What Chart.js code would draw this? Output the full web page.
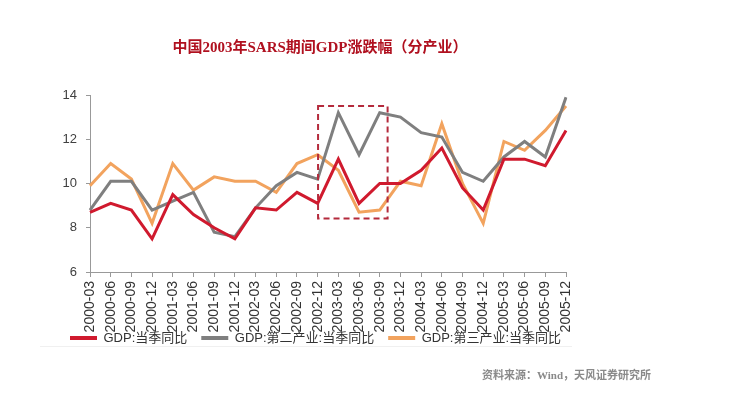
<!DOCTYPE html>
<html>
<head>
<meta charset="utf-8">
<script src="https://cdn.jsdelivr.net/npm/chart.js@4"></script>
<style>
  html, body { margin: 0; padding: 0; background: #ffffff; }
  #wrap { width: 739px; height: 399px; }
</style>
</head>
<body>
<div id="wrap"><canvas id="c" width="739" height="399"></canvas></div>
<script>
const categories = ["2000-03","2000-06","2000-09","2000-12","2001-03","2001-06","2001-09","2001-12",
  "2002-03","2002-06","2002-09","2002-12","2003-03","2003-06","2003-09","2003-12",
  "2004-03","2004-06","2004-09","2004-12","2005-03","2005-06","2005-09","2005-12"];
const gdpTotal = [8.7, 9.1, 8.8, 7.5, 9.5, 8.6, 8.0, 7.5, 8.9, 8.8, 9.6, 9.1,
  11.1, 9.1, 10.0, 10.0, 10.6, 11.6, 9.8, 8.8, 11.1, 11.1, 10.8, 12.4];
const gdpSecondary = [8.8, 10.1, 10.1, 8.8, 9.2, 9.6, 7.8, 7.6, 8.9, 9.9, 10.5, 10.2,
  13.2, 11.3, 13.2, 13.0, 12.3, 12.1, 10.5, 10.1, 11.2, 11.9, 11.2, 13.9];
const gdpTertiary = [9.9, 10.9, 10.2, 8.2, 10.9, 9.7, 10.3, 10.1, 10.1, 9.6, 10.9, 11.3,
  10.6, 8.7, 8.8, 10.1, 9.9, 12.7, 10.0, 8.2, 11.9, 11.5, 12.4, 13.5];
const seriesNames = ["GDP:当季同比", "GDP:第二产业:当季同比", "GDP:第三产业:当季同比"];
const yTicks = [6, 8, 10, 12, 14];
const titleText = "中国2003年SARS期间GDP涨跌幅（分产业）";
const sourceText = "资料来源：Wind，天风证券研究所";
// SARS highlight box, in data units (category index, percent)
const sarsBoxX = [11.02, 14.38];
const sarsBoxY = [8.42, 13.5];

const extras = {
  id: 'extras',
  afterDatasetsDraw(chart) {
    const ctx = chart.ctx;
    const xs = chart.scales.x, ys = chart.scales.y;
    const x0 = xs.getPixelForValue(sarsBoxX[0]);
    const x1 = xs.getPixelForValue(sarsBoxX[1]);
    const y0 = ys.getPixelForValue(sarsBoxY[1]);
    const y1 = ys.getPixelForValue(sarsBoxY[0]);
    ctx.save();
    ctx.strokeStyle = '#b42a3c';
    ctx.lineWidth = 2;
    ctx.setLineDash([6, 4]);
    ctx.strokeRect(x0, y0, x1 - x0, y1 - y0);
    ctx.restore();
  },
  afterDraw(chart) {
    const ctx = chart.ctx;
    ctx.save();
    ctx.textBaseline = 'middle';
    ctx.textAlign = 'center';
    ctx.fillStyle = '#b0101f';
    ctx.font = 'bold 15px "Liberation Serif", "Noto Sans CJK SC", serif';
    ctx.fillText(titleText, 320, 48);
    ctx.textAlign = 'left';
    ctx.fillStyle = '#8a8a8a';
    ctx.font = 'bold 11px "Liberation Serif", "Noto Sans CJK SC", serif';
    ctx.fillText(sourceText, 482, 376);
    ctx.strokeStyle = '#f0f0f0';
    ctx.lineWidth = 1;
    ctx.beginPath();
    ctx.moveTo(40, 346.5);
    ctx.lineTo(572, 346.5);
    ctx.stroke();
    ctx.restore();
  }
};

const colors = ['#d01a2e', '#7f7f7f', '#f2a35e'];

new Chart(document.getElementById('c'), {
  type: 'line',
  data: {
    labels: categories,
    datasets: [
      { label: seriesNames[0], data: gdpTotal, borderColor: colors[0], backgroundColor: colors[0] },
      { label: seriesNames[1], data: gdpSecondary, borderColor: colors[1], backgroundColor: colors[1] },
      { label: seriesNames[2], data: gdpTertiary, borderColor: colors[2], backgroundColor: colors[2] }
    ]
  },
  options: {
    responsive: false,
    animation: false,
    devicePixelRatio: 1,
    layout: { padding: { left: 56, right: 140, top: 95, bottom: 44.5 } },
    elements: {
      line: { borderWidth: 3, tension: 0, borderJoinStyle: 'miter' },
      point: { radius: 0, hoverRadius: 0 }
    },
    scales: {
      x: {
        offset: false,
        grid: { display: true, drawOnChartArea: false, drawTicks: true, tickLength: 5, color: '#999999' },
        border: { display: true, color: '#999999', width: 1 },
        ticks: {
          autoSkip: false, minRotation: 90, maxRotation: 90, padding: 4,
          color: '#333333', font: { family: '"Liberation Sans", Arial, sans-serif', size: 14 }
        },
        afterFit(scale) {
          scale.height = 45.5;
          scale._computeLabelArea = () => undefined;
        }
      },
      y: {
        min: 6, max: 14,
        afterBuildTicks(scale) { scale.ticks = yTicks.map(v => ({ value: v })); },
        grid: { display: true, drawOnChartArea: false, drawTicks: true, tickLength: 4, color: '#999999' },
        border: { display: true, color: '#999999', width: 1 },
        ticks: {
          padding: 9, color: '#404040',
          font: { family: '"Liberation Sans", Arial, sans-serif', size: 13 }
        },
        afterFit(scale) { scale.width = 34; }
      },
      yPad: {
        type: 'linear',
        position: 'right',
        display: true,
        grid: { display: false, drawTicks: false },
        border: { display: false },
        ticks: { display: false },
        afterFit(scale) { scale.width = 33; }
      }
    },
    plugins: {
      title: { display: false },
      tooltip: { enabled: false },
      legend: {
        display: true,
        position: 'bottom',
        align: 'start',
        labels: {
          boxWidth: 27, boxHeight: 4, padding: 14,
          color: '#333333',
          font: { family: '"Liberation Sans", "Noto Sans CJK SC", sans-serif', size: 13 },
          generateLabels(chart) {
            const items = Chart.defaults.plugins.legend.labels.generateLabels(chart);
            items.forEach(it => { it.lineWidth = 0; it.strokeStyle = it.fillStyle; });
            return items;
          }
        }
      }
    }
  },
  plugins: [extras]
});
</script>
</body>
</html>
